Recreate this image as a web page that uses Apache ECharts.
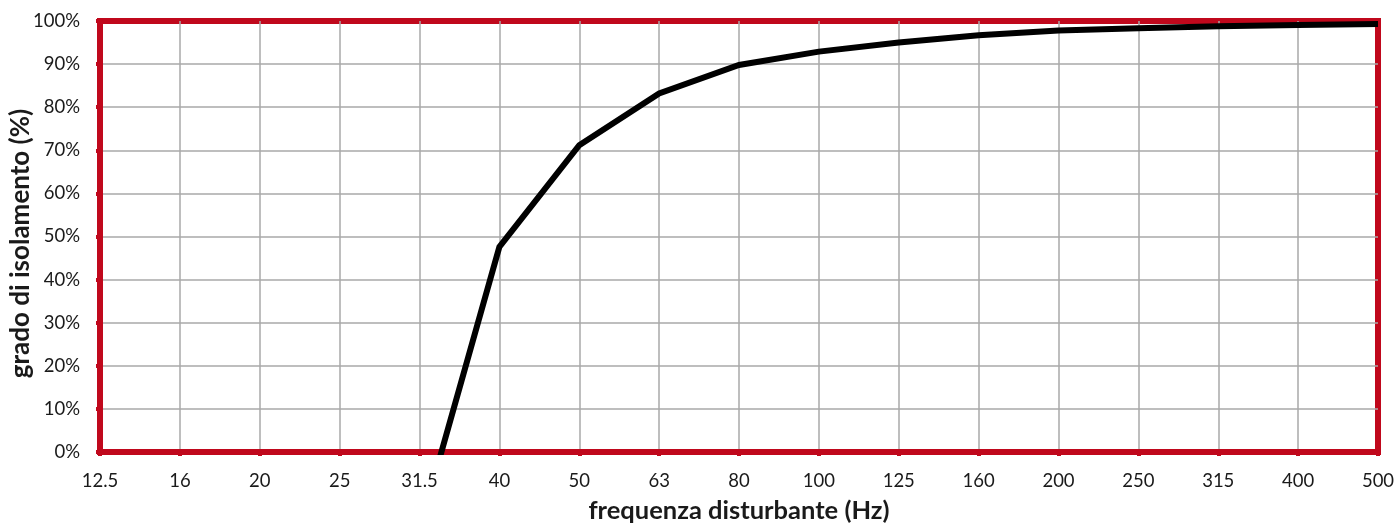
<!DOCTYPE html>
<html><head><meta charset="utf-8">
<script src="https://cdn.jsdelivr.net/npm/echarts@6/dist/echarts.min.js"></script>
<style>html,body{margin:0;padding:0;background:#fff}#c{width:1400px;height:525px}</style>
</head><body><div id="c"></div>
<script>
const categories = ['12.5','16','20','25','31.5','40','50','63','80','100','125','160','200','250','315','400','500'];
const isolation = [null,null,null,null,-18,47.6,71.2,83.2,89.8,92.9,95.0,96.7,97.8,98.3,98.8,99.1,99.3];
const xTitle = 'frequenza disturbante (Hz)';
const yTitle = 'grado di isolamento (%)';

const red = '#c0081c';
const txt = '#1a1a1a';
const chart = echarts.init(document.getElementById('c'));
chart.setOption({
  animation: false,
  grid: {left: 100, right: 22, top: 21, bottom: 73, containLabel: false, outerBoundsMode: 'none',
         show: true, borderColor: red, borderWidth: 6, backgroundColor: '#fff'},
  xAxis: {
    type: 'category', data: categories, boundaryGap: false,
    name: xTitle, nameLocation: 'middle', nameGap: 46, nameMoveOverlap: false,
    nameTextStyle: {fontFamily: 'Lato', fontWeight: 'bold', fontSize: 25.5, color: txt},
    axisLine: {show: true, lineStyle: {color: red, width: 6}},
    axisTick: {show: true, alignWithLabel: true, length: 4, lineStyle: {color: red, width: 4}},
    axisLabel: {fontFamily: 'Lato', fontSize: 18.5, color: txt, margin: 20},
    splitLine: {show: true, showMinLine: false, showMaxLine: false, lineStyle: {color: '#a8a8a8', width: 1.5}}
  },
  yAxis: {
    type: 'value', min: 0, max: 100, interval: 10,
    name: yTitle, nameLocation: 'middle', nameGap: 66, nameMoveOverlap: false,
    nameTextStyle: {fontFamily: 'Lato', fontWeight: 'bold', fontSize: 26, color: txt, padding: [0, 14, 0, 0]},
    axisLine: {show: true, lineStyle: {color: red, width: 6}},
    axisTick: {show: true, length: 4, lineStyle: {color: red, width: 4}},
    axisLabel: {fontFamily: 'Lato', fontSize: 18.5, color: txt, margin: 20, formatter: '{value}%'},
    splitLine: {show: true, showMinLine: false, showMaxLine: false, lineStyle: {color: '#a8a8a8', width: 1.5}}
  },
  series: [{
    type: 'line', data: isolation, showSymbol: false, symbol: 'none', clip: true,
    connectNulls: false, z: 5,
    lineStyle: {color: '#000', width: 6, join: 'miter'}
  }]
});
</script></body></html>
